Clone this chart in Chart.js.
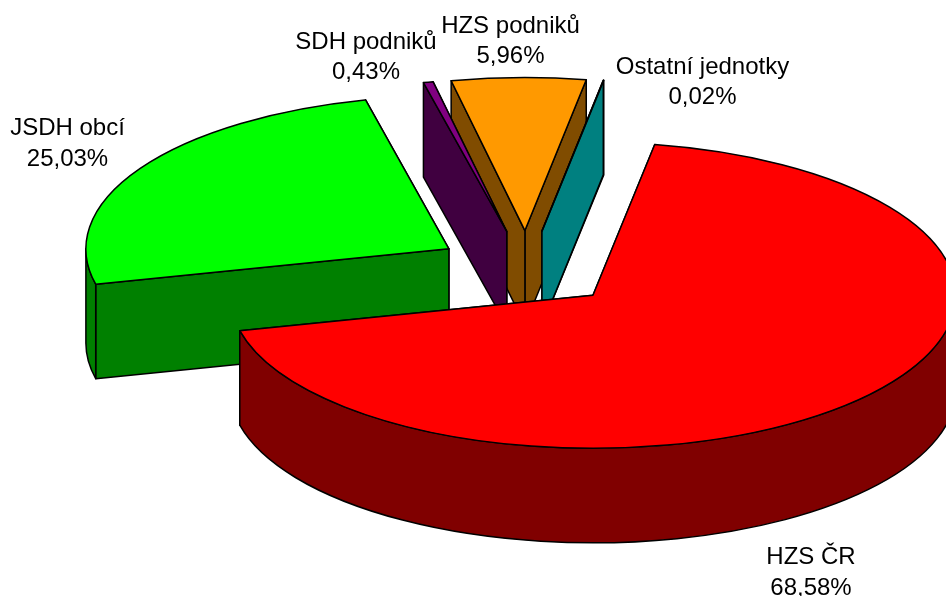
<!DOCTYPE html>
<html lang="cs">
<head>
<meta charset="utf-8">
<title>Podíl jednotek</title>
<script src="https://cdn.jsdelivr.net/npm/chart.js@4"></script>
<style>
html,body{margin:0;padding:0;background:#fff}
canvas{display:block}
</style>
</head>
<body>
<canvas id="c" width="946" height="596"></canvas>
<script>
const categories = ['HZS ČR', 'JSDH obcí', 'SDH podniků', 'HZS podniků', 'Ostatní jednotky'];
const shares = [68.58, 25.03, 0.43, 5.96, 0.02];
const topColors = ['#ff0000', '#00ff00', '#800080', '#ff9900', '#00ffff'];
const wallColors = ['#800000', '#008000', '#400040', '#804c00', '#008080'];
const paintOrder = [1, 3, 2, 4, 0];
const labelCentres = [[811, 564], [67.5, 135], [366, 48.5], [510.5, 32.5], [702.5, 73.5]];

const SQUASH = 0.4215, DEPTH = 94.5, EXPLODE = 91.2, LINE_GAP = 30.5;

const pie3d = {
  id: 'pie3d',
  beforeDatasetsDraw(chart) {
    const ctx = chart.ctx;
    const arcs = chart.getDatasetMeta(0).data;
    ctx.lineWidth = 1.5;
    ctx.lineJoin = 'round';
    ctx.strokeStyle = '#000';
    paintOrder.forEach(i => {
      const arc = arcs[i];
      const s = arc.startAngle, e = arc.endAngle, R = arc.outerRadius;
      const mid = (s + e) / 2;
      const ox = arc.x + Math.cos(mid) * EXPLODE;
      const oy = arc.y + Math.sin(mid) * EXPLODE * SQUASH;
      const rimX = a => ox + R * Math.cos(a);
      const rimY = a => oy + R * SQUASH * Math.sin(a);
      ctx.fillStyle = wallColors[i];
      [e, s].forEach(a => {
        ctx.beginPath();
        ctx.moveTo(ox, oy);
        ctx.lineTo(rimX(a), rimY(a));
        ctx.lineTo(rimX(a), rimY(a) + DEPTH);
        ctx.lineTo(ox, oy + DEPTH);
        ctx.closePath();
        ctx.fill();
        ctx.stroke();
      });
      const lo = Math.max(s, 0), hi = Math.min(e, Math.PI);
      if (lo < hi) {
        ctx.beginPath();
        ctx.ellipse(ox, oy, R, R * SQUASH, 0, lo, hi);
        ctx.ellipse(ox, oy + DEPTH, R, R * SQUASH, 0, hi, lo, true);
        ctx.closePath();
        ctx.fill();
        ctx.stroke();
      }
      ctx.save();
      ctx.translate(ox, oy);
      ctx.scale(1, SQUASH);
      ctx.translate(-arc.x, -arc.y);
      arc.draw(ctx);
      ctx.restore();
      ctx.beginPath();
      ctx.moveTo(ox, oy);
      ctx.ellipse(ox, oy, R, R * SQUASH, 0, s, e);
      ctx.closePath();
      ctx.stroke();
    });
    ctx.fillStyle = '#000';
    ctx.font = '24px "Liberation Sans", Arial, sans-serif';
    ctx.textAlign = 'center';
    ctx.textBaseline = 'alphabetic';
    categories.forEach((name, i) => {
      const [x, y] = labelCentres[i];
      ctx.fillText(name, x, y);
      ctx.fillText(shares[i].toFixed(2).replace('.', ',') + '%', x, y + LINE_GAP);
    });
    return false;
  }
};

new Chart(document.getElementById('c'), {
  type: 'pie',
  data: {
    labels: categories,
    datasets: [{
      data: shares,
      backgroundColor: topColors,
      borderWidth: 0,
      clip: false
    }]
  },
  options: {
    responsive: false,
    animation: false,
    rotation: 9.8,
    radius: 363,
    layout: { padding: { left: 107, bottom: 58 } },
    plugins: { legend: { display: false }, tooltip: { enabled: false } }
  },
  plugins: [pie3d]
});
</script>
</body>
</html>
